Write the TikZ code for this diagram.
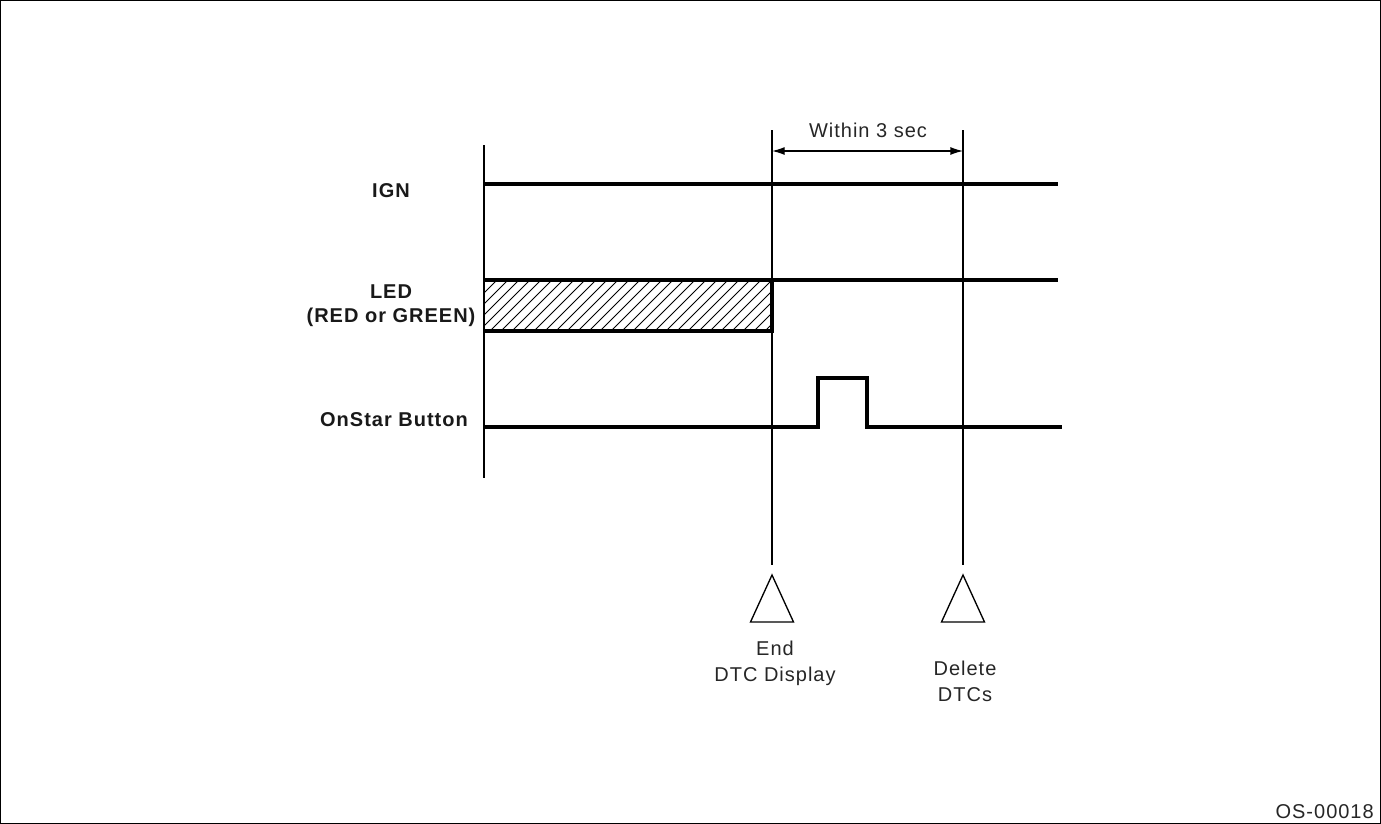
\documentclass[tikz,border=0pt]{standalone}
\usepackage{fontspec}
\setmainfont{Liberation Sans}
\usetikzlibrary{arrows.meta}
\begin{document}
\begin{tikzpicture}[x=0.75pt,y=-0.75pt,
  sig/.style={line width=2.3pt,line cap=butt,line join=miter},
  thin/.style={line width=1pt},
  lbl/.style={font=\fontsize{15}{18}\selectfont\bfseries\addfontfeature{LetterSpace=5},align=center,inner sep=0pt,text=black!90},
  txt/.style={font=\fontsize{15}{19.5}\selectfont\addfontfeature{LetterSpace=5},align=center,inner sep=0pt,text=black!85},
  tri/.style={line width=1pt,line join=miter}]
\useasboundingbox (0,0) rectangle (1381,824);
\draw[line width=0.9pt] (0.6,0.6) rectangle (1380.4,823.4);

% coordinates
\coordinate (L0) at (484,145);
\coordinate (L1) at (484,478);
\coordinate (A0) at (772,130);
\coordinate (A1) at (772,565);
\coordinate (B0) at (963,130);
\coordinate (B1) at (963,565);
\coordinate (tA) at (772,575);
\coordinate (tB) at (963,575);

% vertical lines
\draw[thin] (L0) -- (L1);
\draw[thin] (A0) -- (A1);
\draw[thin] (B0) -- (B1);

% labels
\node[lbl] (ign) at (391,191) {IGN};
\node[lbl] (led) at (391,306) {LED\\(RED or GREEN)};
\node[lbl] (btn) at (394,420) {OnStar Button};

% IGN
\coordinate (i0) at (484,184);
\coordinate (i1) at (1058,184);
\draw[sig] (i0) -- (i1);

% LED hatched box
\coordinate (d0) at (484,280);
\coordinate (d1) at (772,331);
\coordinate (d2) at (1058,280);
\begin{scope}
\clip (d0) rectangle (d1);
\foreach \k in {0,...,34} {
  \draw[line width=0.7pt] ({484-60+\k*11},331) -- ++(51,-51);
}
\end{scope}
\draw[sig] (d0) -- (d2);
\draw[sig] (484,331) -- (772,331) -- (772,280);

% OnStar button
\coordinate (o0) at (484,427);
\coordinate (o1) at (818,427);
\coordinate (o2) at (818,378);
\coordinate (o3) at (867,378);
\coordinate (o4) at (867,427);
\coordinate (o5) at (1062,427);
\draw[sig] (o0) -- (o1) -- (o2) -- (o3) -- (o4) -- (o5);

% within 3 sec
\coordinate (w0) at (772,151);
\coordinate (w1) at (963,151);
\draw[thin,{Latex[length=9.5pt,width=6pt]}-{Latex[length=9.5pt,width=6pt]}] (w0) -- (w1);
\node[txt] (within) at (868,130) {Within 3 sec};

% triangles
\draw[tri] (tA) -- ++(21.5,47) -- ++(-43,0) -- cycle;
\draw[tri] (tB) -- ++(21.5,47) -- ++(-43,0) -- cycle;
\node[txt] (endlbl) at (775,663) {End\\DTC Display};
\node[txt] (dellbl) at (965,681) {Delete\\DTCs};

\node[txt,anchor=east] (code) at (1374,812) {OS-00018};
\end{tikzpicture}
\end{document}
